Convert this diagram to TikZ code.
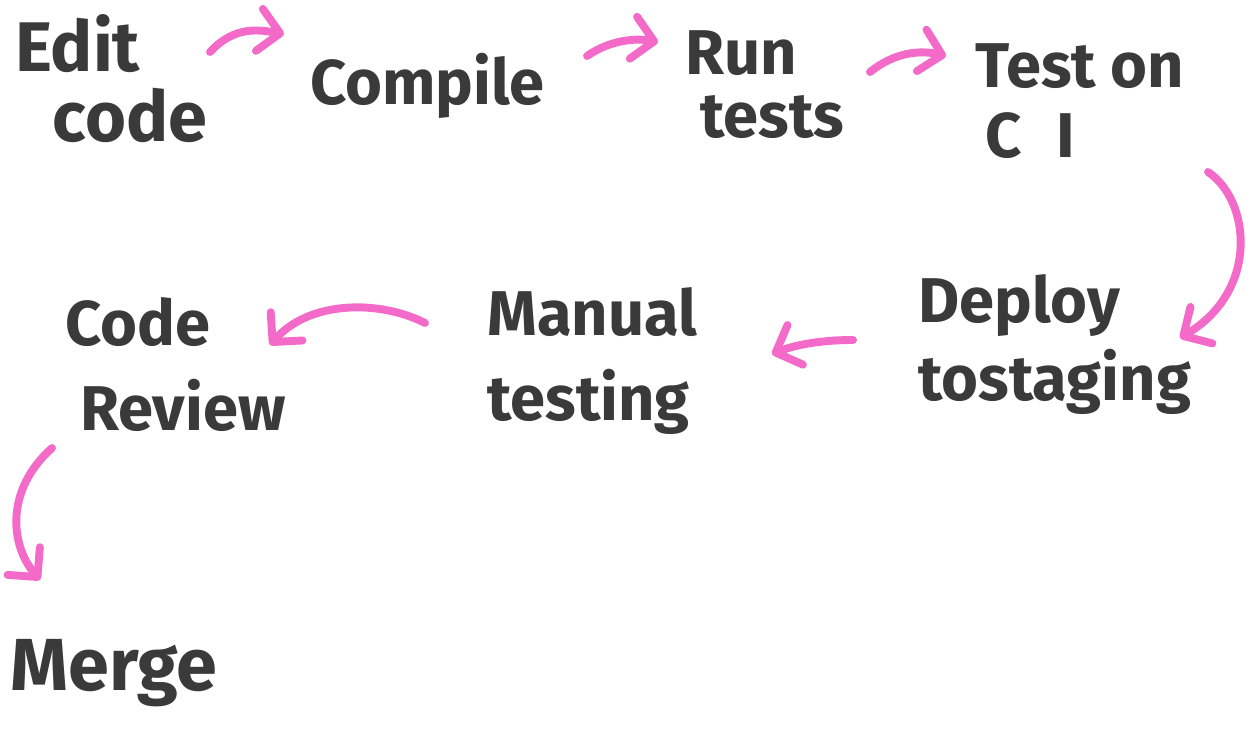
\documentclass[tikz,border=0pt]{standalone}
\usepackage{fontspec}
\setmainfont{Fira Sans}
\usetikzlibrary{arrows.meta}
\definecolor{ink}{HTML}{3A3A3A}
\definecolor{marker}{HTML}{F36AC8}
\tikzset{
  lbl/.style={font=\fontsize{36}{46}\selectfont\bfseries, text=ink, align=left, inner sep=0pt, anchor=base west},
  flow/.style={draw=marker, line width=4.5pt, line cap=round,
    -{Straight Barb[length=0.42cm,width=0.85cm,round]}}
}
\begin{document}
\begin{tikzpicture}[x=0.02cm,y=-0.02cm]
\useasboundingbox (0,0) rectangle (1251,733);
% labels (anchored at the baseline of their last line)
\node[lbl, font=\fontsize{40}{40}\selectfont\bfseries] (edit) at (15,142) {Edit\\\hspace*{0.75cm}code};
\node[lbl] (compile) at (310,105) {Compile};
\node[lbl, font=\fontsize{36}{36}\selectfont\bfseries] (run) at (685,138) {Run\\\hspace*{0.3cm}tests};
\node[lbl, font=\fontsize{36}{40}\selectfont\bfseries] (ci) at (975,158) {Test on\\\hspace*{0.2cm}C\hspace*{0.7cm}I};
\node[lbl, font=\fontsize{36}{44}\selectfont\bfseries] (deploy) at (918,400) {Deploy\\tostaging};
\node[lbl, font=\fontsize{36}{48}\selectfont\bfseries] (manual) at (487,420) {Manual\\testing};
\node[lbl, font=\fontsize{36}{48}\selectfont\bfseries] (review) at (65,430) {Code\\\hspace*{0.3cm}Review};
\node[lbl, font=\fontsize{42}{48}\selectfont\bfseries] (merge) at (10,690) {Merge};
% arrow endpoints
\coordinate (a1s) at (210,52);  \coordinate (a1e) at (284,34);
\coordinate (a2s) at (587,56);  \coordinate (a2e) at (658,42);
\coordinate (a3s) at (870,72);  \coordinate (a3e) at (946,56);
\coordinate (a4s) at (1208,172); \coordinate (a4e) at (1180,338);
\coordinate (a5s) at (853,340); \coordinate (a5e) at (772,354);
\coordinate (a6s) at (425,323); \coordinate (a6e) at (270,345);
\coordinate (a7s) at (52,448);  \coordinate (a7e) at (40,580);
% connectors
\draw[flow] (a1s) .. controls (235,25) and (260,30) .. (a1e);
\draw[flow] (a2s) .. controls (610,40) and (635,38) .. (a2e);
\draw[flow] (a3s) .. controls (895,52) and (920,50) .. (a3e);
\draw[flow] (a4s) .. controls (1250,200) and (1260,290) .. (a4e);
\draw[flow] (a5s) .. controls (820,340) and (795,345) .. (a5e);
\draw[flow] (a6s) .. controls (380,300) and (310,300) .. (a6e);
\draw[flow] (a7s) .. controls (5,490) and (10,545) .. (a7e);
\end{tikzpicture}
\end{document}
